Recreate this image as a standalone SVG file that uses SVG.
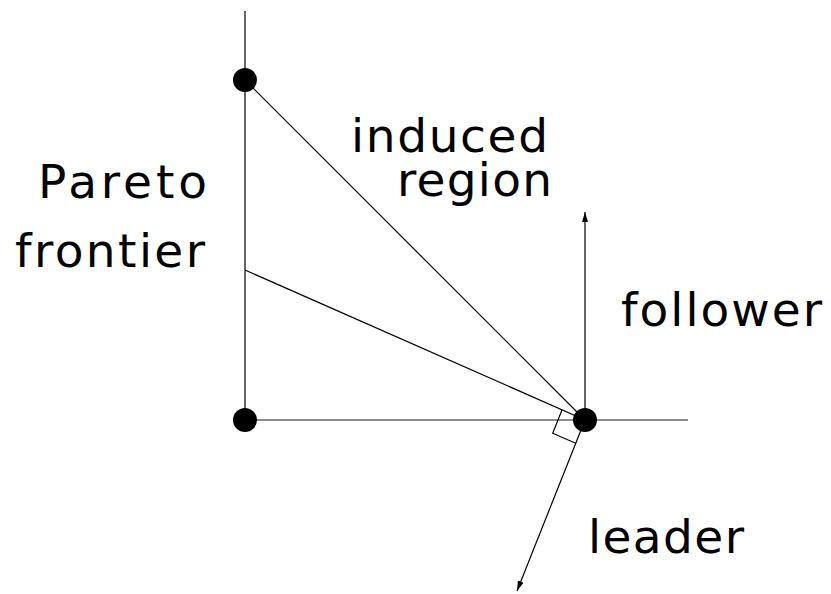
<svg xmlns="http://www.w3.org/2000/svg" width="831" height="594" viewBox="0 0 831 594">
<style>
.ln{stroke:#000;stroke-width:1.2;fill:none}
.gl{stroke:#666;stroke-width:1.6;fill:none}
.lb{font-family:"DejaVu Sans",sans-serif;font-size:47px;fill:#000}
.dot{fill:#000}
</style>
<defs>
<marker id="ah" viewBox="0 0 10 10" refX="10" refY="5" markerWidth="10" markerHeight="10" markerUnits="userSpaceOnUse" orient="auto">
<path d="M0,2 L10,5 L0,8 Z" fill="#000"/>
</marker>
</defs>
<rect width="831" height="594" fill="#fff"/>
<g id="connectors">
<line class="ln" x1="245" y1="11" x2="245" y2="420"/>
<line class="gl" x1="245" y1="420" x2="688" y2="420"/>
<line class="ln" x1="245" y1="80" x2="585" y2="420"/>
<line class="ln" x1="245" y1="270" x2="585" y2="420"/>
<line class="ln" x1="585" y1="420" x2="585" y2="212" marker-end="url(#ah)"/>
<line class="ln" x1="585" y1="420" x2="517" y2="591" marker-end="url(#ah)"/>
<polyline class="ln" points="562,410 552.7,433.2 575.7,443.2"/>
</g>
<g id="node-top"><circle class="dot" cx="245" cy="80" r="12"/></g>
<g id="node-origin"><circle class="dot" cx="245" cy="420" r="12"/></g>
<g id="node-right"><circle class="dot" cx="585" cy="420" r="12"/></g>
<g id="label-pareto">
<text class="lb" x="38" y="198" textLength="169" lengthAdjust="spacing">Pareto</text>
<text class="lb" x="15" y="267" textLength="190" lengthAdjust="spacing">frontier</text>
</g>
<g id="label-induced">
<text class="lb" x="351" y="152" textLength="197" lengthAdjust="spacing">induced</text>
<text class="lb" x="397" y="196" textLength="155" lengthAdjust="spacing">region</text>
</g>
<g id="label-follower"><text class="lb" x="621" y="326" textLength="201" lengthAdjust="spacing">follower</text></g>
<g id="label-leader"><text class="lb" x="588" y="553" textLength="156" lengthAdjust="spacing">leader</text></g>
</svg>
